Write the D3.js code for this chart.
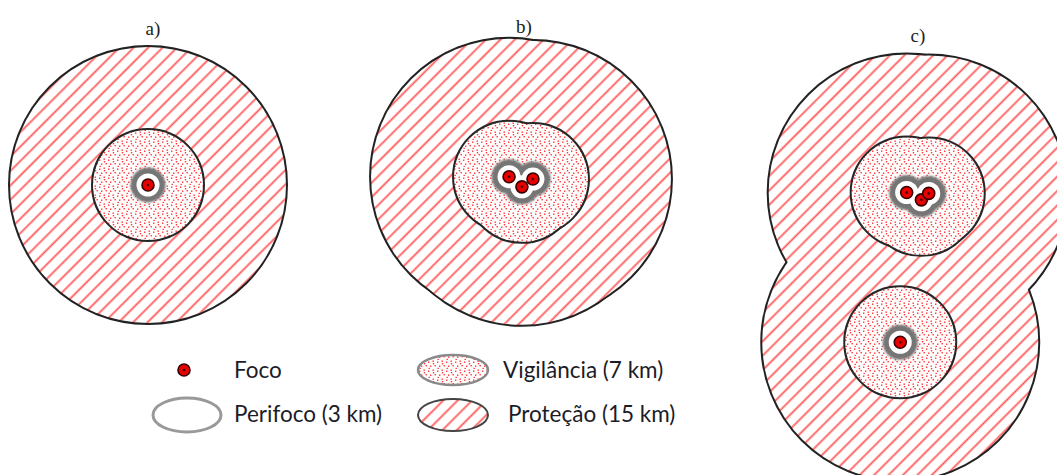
<!DOCTYPE html>
<html>
<head>
<meta charset="utf-8">
<script src="https://cdn.jsdelivr.net/npm/d3@7"></script>
<style>
  body { margin: 0; background: #fff; }
  svg { display: block; }
</style>
</head>
<body>
<div id="chart"></div>
<script>
// zone data
const panelLabels = ["a)", "b)", "c)"];
const zoneRadiusKm = [3, 7, 15];           // perifoco, vigilancia, protecao
const legendLabels = ["Foco", "Perifoco (3 km)", "Vigilância (7 km)", "Proteção (15 km)"];

// outbreak (foco) positions, km from each panel centre
const fociA = [[0, 0]];
const fociB = [[-1.3, -0.9], [0.1, 0.2], [1.3, -0.65]];
const fociC = [[0.4, -8.0], [2.0, -7.2], [2.8, -7.9], [-0.3, 8.3]];

const width = 1057;
const height = 475;

const svg = d3.select("#chart").append("svg")
    .attr("width", width)
    .attr("height", height);

const defs = svg.append("defs");

// hatch for protection zone
const hatch = defs.append("pattern")
    .attr("id", "hatch")
    .attr("patternUnits", "userSpaceOnUse")
    .attr("width", 10.2)
    .attr("height", 10.2)
    .attr("patternTransform", "rotate(45)");
hatch.append("rect").attr("width", 10.2).attr("height", 10.2).attr("fill", "#fff");
hatch.append("line")
    .attr("x1", 5).attr("x2", 5).attr("y1", 0).attr("y2", 10.2)
    .attr("stroke", "#ff5c5c")
    .attr("stroke-width", 1.8);

// stipple for surveillance zone
const dots = defs.append("pattern")
    .attr("id", "dots")
    .attr("patternUnits", "userSpaceOnUse")
    .attr("width", 9)
    .attr("height", 9);
dots.append("rect").attr("width", 9).attr("height", 9).attr("fill", "#fff");
[[0.5, 0.5], [5, 1.5], [2.5, 5], [7, 5.5], [5.5, 7.8], [0.8, 3]].forEach(p => {
    dots.append("rect")
        .attr("x", p[0]).attr("y", p[1])
        .attr("width", 1.4).attr("height", 1.4)
        .attr("fill", "#ff3535");
});

const soft = defs.append("filter").attr("id", "soft")
    .attr("x", "-100%").attr("y", "-100%")
    .attr("width", "300%").attr("height", "300%");
soft.append("feGaussianBlur").attr("stdDeviation", 1);

// scales
const kmPos = d3.scaleLinear().domain([-16, 16]).range([-147, 147]);
const kmRadius = d3.scaleLinear().domain([0, 3, 7, 15]).range([0, 11.5, 55, 138]);

const panels = [
    { label: panelLabels[0], cx: 148, cy: 185, foci: fociA, lx: 153, ly: 35 },
    { label: panelLabels[1], cx: 521, cy: 185, foci: fociB, lx: 524, ly: 33 },
    { label: panelLabels[2], cx: 903, cy: 266, foci: fociC, lx: 918, ly: 42 }
];

panels.forEach(p => {
    const g = svg.append("g").attr("transform", `translate(${p.cx},${p.cy})`);
    const pts = p.foci.map(d => [kmPos(d[0]), kmPos(d[1])]);

    // protection (15 km): outline layer then fill layer -> union outline
    g.append("g").selectAll("circle").data(pts).join("circle")
        .attr("cx", d => d[0]).attr("cy", d => d[1])
        .attr("r", kmRadius(zoneRadiusKm[2]))
        .attr("fill", "none").attr("stroke", "#222").attr("stroke-width", 4);
    g.append("g").selectAll("circle").data(pts).join("circle")
        .attr("cx", d => d[0]).attr("cy", d => d[1])
        .attr("r", kmRadius(zoneRadiusKm[2]))
        .attr("fill", "url(#hatch)");

    // surveillance (7 km)
    g.append("g").selectAll("circle").data(pts).join("circle")
        .attr("cx", d => d[0]).attr("cy", d => d[1])
        .attr("r", kmRadius(zoneRadiusKm[1]))
        .attr("fill", "none").attr("stroke", "#262626").attr("stroke-width", 4);
    g.append("g").selectAll("circle").data(pts).join("circle")
        .attr("cx", d => d[0]).attr("cy", d => d[1])
        .attr("r", kmRadius(zoneRadiusKm[1]))
        .attr("fill", "url(#dots)");

    // perifoco (3 km)
    g.append("g").attr("filter", "url(#soft)").selectAll("circle").data(pts).join("circle")
        .attr("cx", d => d[0]).attr("cy", d => d[1])
        .attr("r", kmRadius(zoneRadiusKm[0]))
        .attr("fill", "none").attr("stroke", "#747474").attr("stroke-width", 12);
    g.append("g").selectAll("circle").data(pts).join("circle")
        .attr("cx", d => d[0]).attr("cy", d => d[1])
        .attr("r", kmRadius(zoneRadiusKm[0]))
        .attr("fill", "#fff");

    // foci
    const f = g.append("g").selectAll("g").data(pts).join("g")
        .attr("transform", d => `translate(${d[0]},${d[1]})`);
    f.append("circle").attr("r", 6).attr("fill", "#e60000").attr("stroke", "#3a0000").attr("stroke-width", 1.6);
    f.append("circle").attr("r", 1.3).attr("fill", "#400");

    svg.append("text")
        .attr("x", p.lx).attr("y", p.ly)
        .attr("text-anchor", "middle")
        .attr("font-family", "Liberation Serif, serif")
        .attr("font-size", 19)
        .attr("fill", "#222")
        .text(p.label);
});

// legend
const legend = svg.append("g");
const fontLegend = "Lato, 'Noto Sans', sans-serif";

const lf = legend.append("g").attr("transform", "translate(184,370)");
lf.append("circle").attr("r", 6).attr("fill", "#e60000").attr("stroke", "#3a0000").attr("stroke-width", 1.6);
lf.append("circle").attr("r", 1.3).attr("fill", "#400");

legend.append("ellipse")
    .attr("cx", 187).attr("cy", 415).attr("rx", 34).attr("ry", 17)
    .attr("fill", "#fff").attr("stroke", "#999").attr("stroke-width", 3);

legend.append("ellipse")
    .attr("cx", 453).attr("cy", 370).attr("rx", 35).attr("ry", 15)
    .attr("fill", "url(#dots)").attr("stroke", "#8a8a8a").attr("stroke-width", 2.5);

legend.append("ellipse")
    .attr("cx", 453).attr("cy", 415).attr("rx", 35).attr("ry", 16)
    .attr("fill", "url(#hatch)").attr("stroke", "#444").attr("stroke-width", 2);

const legendText = [
    { x: 234, y: 378 },
    { x: 234, y: 422 },
    { x: 503, y: 378 },
    { x: 508, y: 422 }
];
legend.selectAll("text.lab").data(legendLabels).join("text")
    .attr("class", "lab")
    .attr("x", (d, i) => legendText[i].x)
    .attr("y", (d, i) => legendText[i].y)
    .attr("font-family", fontLegend)
    .attr("font-size", 22.5)
    .attr("fill", "#1c1c28")
    .text(d => d);
</script>
</body>
</html>
